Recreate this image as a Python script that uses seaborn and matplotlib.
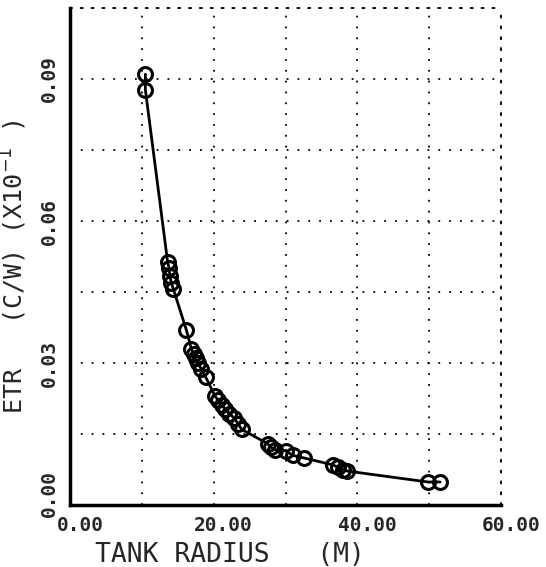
import numpy as np
import pandas as pd
import seaborn as sns
import matplotlib.pyplot as plt
import matplotlib.transforms as mtransforms
from matplotlib.ticker import MultipleLocator

# values
radius = [10.5, 10.5, 13.6, 13.8, 13.9, 14.1, 14.4, 16.2, 16.9, 17.2, 17.5, 17.8,
          18.3, 18.9, 20.2, 20.6, 21.1, 21.6, 22.2, 22.8, 23.4, 23.9, 27.5, 28.0,
          28.6, 30.0, 31.0, 32.5, 36.6, 37.3, 38.0, 38.6, 49.8, 51.5]
etr = [0.0910, 0.0877, 0.0513, 0.0500, 0.0485, 0.0470, 0.0456, 0.0370, 0.0330,
       0.0320, 0.0310, 0.0300, 0.0287, 0.0270, 0.0230, 0.0222, 0.0212, 0.0203,
       0.0193, 0.0185, 0.0172, 0.0160, 0.0130, 0.0122, 0.0117, 0.0115, 0.0105,
       0.0100, 0.0085, 0.0080, 0.0075, 0.0072, 0.0049, 0.0049]
xticks = [0, 20, 40, 60]
xticklabels = ['0.00', '20.00', '40.00', '60.00']
yticks = [0.0, 0.03, 0.06, 0.09]
yticklabels = ['0.00', '0.03', '0.06', '0.09']

df = pd.DataFrame({'radius': radius, 'etr': etr})

sns.set_style('white')
plt.rcParams['font.family'] = ['DejaVu Sans Mono', 'DejaVu Sans']

fig = plt.figure(figsize=(5.46, 5.67), dpi=100)
ax = fig.add_axes([0.128, 0.109, 0.79, 0.877])

sns.lineplot(data=df, x='radius', y='etr', ax=ax, color='black', sort=False,
             estimator=None, linewidth=2, marker='o', markersize=10,
             markerfacecolor='none', markeredgecolor='black', markeredgewidth=2.2)

ax.set_xlim(0, 60)
ax.set_ylim(0, 0.105)
ax.set_xticks(xticks)
ax.set_xticklabels(xticklabels, fontsize=14, fontweight='bold')
ax.set_yticks(yticks)
ax.set_yticklabels(yticklabels, fontsize=14, fontweight='bold', rotation=90, va='center')
ax.xaxis.set_minor_locator(MultipleLocator(10))
ax.yaxis.set_minor_locator(MultipleLocator(0.015))
ax.grid(which='both', linestyle=(0, (1, 5)), color='black', linewidth=1.3)
ax.tick_params(which='major', direction='inout', length=10, width=1.5, color='black', pad=3)
ax.tick_params(which='minor', length=0)

# plotter labels sit a little right of the x ticks; lift the y "0.00" off the x one
shift_x = mtransforms.ScaledTranslation(10 / 100, 0, fig.dpi_scale_trans)
for lab in ax.get_xticklabels():
    lab.set_transform(lab.get_transform() + shift_x)
ylabs = ax.get_yticklabels()
ylabs[0].set_transform(ylabs[0].get_transform()
                       + mtransforms.ScaledTranslation(0, 12 / 100, fig.dpi_scale_trans))

for side in ['left', 'bottom']:
    ax.spines[side].set_linewidth(2.5)
    ax.spines[side].set_color('black')
for side in ['top', 'right']:
    ax.spines[side].set_linestyle((0, (1, 5)))
    ax.spines[side].set_linewidth(1.3)
    ax.spines[side].set_color('black')

ax.set_xlabel('TANK RADIUS   (M)', fontsize=19)
ax.set_ylabel('ETR   (C/W) (X10$^{-1}$ )', fontsize=18)
ax.xaxis.set_label_coords(0.37, -0.075)
ax.yaxis.set_label_coords(-0.095, 0.48)

fig.savefig('out.png', dpi=100)
